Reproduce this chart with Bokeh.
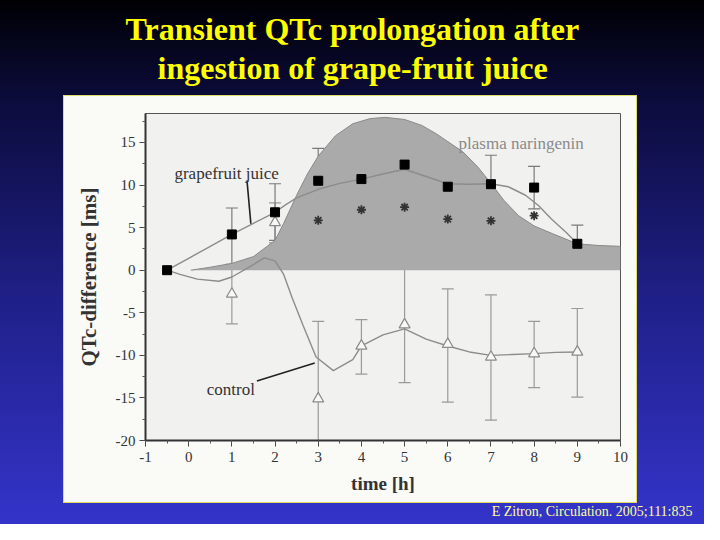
from bokeh.plotting import figure
from bokeh.models import (Range1d, SingleIntervalTicker, Whisker, TeeHead,
                          ColumnDataSource, Title, PrintfTickFormatter)
from bokeh.core.properties import value
from bokeh.embed import file_html
from bokeh.resources import INLINE

# ---------------- data ----------------
title_line1 = "Transient QTc prolongation after"
title_line2 = "ingestion of grape-fruit juice"
citation = "E Zitron, Circulation. 2005;111:835"

# grapefruit juice: mean values with error bars (hi / lo)
gf_x = [-0.5, 1, 2, 3, 4, 5, 6, 7, 8, 9]
gf_y = [0.0, 4.2, 6.8, 10.5, 10.7, 12.4, 9.8, 10.1, 9.7, 3.1]
gf_err_x = [1, 2, 3, 4, 5, 6, 7, 8, 9]
gf_hi = [7.3, 10.15, 14.3, 13.4, 16.8, 12.7, 13.5, 12.2, 5.3]
gf_lo = [0.7, 3.5, 6.6, 8.0, 8.3, 7.0, 6.8, 7.2, 0.8]

# control
ctl_x = [1, 2, 3, 4, 5, 6, 7, 8, 9]
ctl_y = [-2.8, 5.6, -15.1, -8.9, -6.4, -8.7, -10.2, -9.8, -9.6]
ctl_hi = [0.5, 7.9, -6.0, -5.8, 0.1, -2.2, -2.9, -6.0, -4.5]
ctl_lo = [-6.3, 3.2, -24.0, -12.2, -13.2, -15.5, -17.6, -13.8, -14.9]

# significance markers
sig_x = [3, 4, 5, 6, 7, 8]
sig_y = [5.85, 7.1, 7.4, 6.0, 5.8, 6.4]

# smooth fitted curves
gfc_x = [-0.5, 0, 0.5, 1, 1.5, 2, 2.25, 2.5, 3, 3.5, 4, 4.5, 5, 5.5, 6, 6.5,
         7, 7.4, 7.8, 8.1, 8.4, 8.75, 9]
gfc_y = [0, 1.4, 2.8, 4.2, 5.5, 6.8, 7.7, 8.5, 9.5, 10.2, 10.7, 11.3, 11.85,
         11.0, 10.15, 10.1, 10.15, 9.8, 8.8, 7.6, 6.0, 4.4, 3.1]

ctc_x = [-0.5, -0.2, 0.2, 0.7, 1.0, 1.4, 1.75, 2.0, 2.2, 2.4, 2.65, 2.95,
         3.35, 3.8, 4.0, 4.5, 5.0, 5.5, 6.0, 6.5, 7.0, 7.5, 8.0, 8.5, 9.0]
ctc_y = [0, -0.5, -1.05, -1.3, -0.8, 0.35, 1.45, 1.1, -0.5, -3.3, -6.5, -10.2,
         -11.8, -10.5, -8.9, -7.6, -6.9, -8.1, -8.9, -9.6, -10.0, -9.9, -9.8,
         -9.65, -9.6]

# plasma naringenin (shaded area, arbitrary scale)
nar_x = [0.05, 0.5, 1.0, 1.5, 2.0, 2.2, 2.5, 2.75, 3.0, 3.4, 3.8, 4.2, 4.55,
         5.0, 5.4, 5.74, 6.0, 6.35, 6.7, 7.0, 7.3, 7.64, 8.0, 8.42, 9.0, 9.5,
         10.0]
nar_y = [0.0, 0.35, 0.8, 1.6, 3.5, 5.5, 8.8, 11.3, 13.4, 15.8, 17.2, 17.8,
         17.95, 17.7, 17.0, 16.0, 15.1, 13.9, 12.1, 10.2, 8.2, 6.4, 5.2, 4.3,
         3.1, 2.9, 2.8]

# in-plot labels and their pointer lines
label_text = ["grapefruit juice", "control"]
label_x = [-0.33, 0.42]
label_y = [11.3, -13.96]
note_text = ["plasma naringenin"]
note_x = [6.25]
note_y = [14.86]
ptr_x0 = [1.35, 1.58]
ptr_y0 = [10.55, -13.0]
ptr_x1 = [1.44, 2.92]
ptr_y1 = [5.45, -10.9]

x_label = "time [h]"
y_label = "QTc-difference [ms]"

# ---------------- figure ----------------
SERIF = "Liberation Serif"

p = figure(width=704, height=524, output_backend="svg", toolbar_location=None,
           x_range=Range1d(-1, 10), y_range=Range1d(-20, 18.4),
           min_border_left=145, min_border_right=84, min_border_top=113,
           min_border_bottom=84, title_location=None,
           border_fill_color=None, background_fill_color="#f1f1f0",
           outline_line_color="#555555", outline_line_width=1)

p.styles = {
    "background-image": ("linear-gradient(#fafaf7,#fafaf7), "
                         "linear-gradient(#dede66,#dede66), "
                         "linear-gradient(180deg, #000004 0%, #0c0c3e 20%, "
                         "#20208a 58%, #3434ca 100%)"),
    "background-position": "64px 96px, 63px 95px, 0px 0px",
    "background-size": "572px 406px, 574px 408px, 100% 100%",
    "background-repeat": "no-repeat",
}

p.grid.visible = False

# axes
p.xaxis.ticker = SingleIntervalTicker(interval=1, num_minor_ticks=2)
p.yaxis.ticker = SingleIntervalTicker(interval=5, num_minor_ticks=2)
for ax in (p.xaxis, p.yaxis):
    ax.formatter = PrintfTickFormatter(format="%d")
    ax.axis_line_color = "#333333"
    ax.axis_line_width = 2
    ax.major_tick_in = 0
    ax.major_tick_out = 6
    ax.minor_tick_in = 0
    ax.minor_tick_out = 3
    ax.major_tick_line_color = "#444444"
    ax.minor_tick_line_color = "#555555"
    ax.major_label_text_font = SERIF
    ax.major_label_text_font_size = "15px"
    ax.major_label_text_color = "#333333"
    ax.axis_label_text_font = SERIF
    ax.axis_label_text_font_style = "bold"
    ax.axis_label_text_color = "#333333"
p.xaxis.axis_label = x_label
p.yaxis.axis_label = y_label
p.xaxis.axis_label_text_font_size = "19px"
p.yaxis.axis_label_text_font_size = "21px"
p.xaxis.major_label_standoff = 5
p.yaxis.major_label_standoff = 4
p.xaxis.axis_label_standoff = 8
p.yaxis.axis_label_standoff = 12

# shaded naringenin curve
p.varea(x=nar_x, y1=[0] * len(nar_x), y2=nar_y, fill_color="#aaaaaa")
p.line(nar_x, nar_y, line_color="#8a8a8a", line_width=1)

# fitted curves
p.line(gfc_x, gfc_y, line_color="#8c8c8c", line_width=1.4)
p.line(ctc_x, ctc_y, line_color="#8c8c8c", line_width=1.4)

# error bars
ctl_src = ColumnDataSource(dict(x=ctl_x, y=ctl_y, hi=ctl_hi, lo=ctl_lo))
gf_src = ColumnDataSource(dict(x=gf_err_x, hi=gf_hi, lo=gf_lo))
p.add_layout(Whisker(base="x", upper="hi", lower="lo", source=ctl_src,
                     line_color="#9a9a9a", line_width=1.2,
                     upper_head=TeeHead(size=12, line_color="#9a9a9a", line_width=1.2),
                     lower_head=TeeHead(size=12, line_color="#9a9a9a", line_width=1.2)))
p.add_layout(Whisker(base="x", upper="hi", lower="lo", source=gf_src,
                     line_color="#7a7a7a", line_width=1.2,
                     upper_head=TeeHead(size=12, line_color="#7a7a7a", line_width=1.2),
                     lower_head=TeeHead(size=12, line_color="#7a7a7a", line_width=1.2)))

# markers
p.scatter(x="x", y="y", source=ctl_src, marker="triangle", size=11,
          fill_color="#f8f8f8", line_color="#8a8a8a", line_width=1.2)
p.scatter(gf_x, gf_y, marker="square", size=9, fill_color="#000000",
          line_color="#000000")
p.scatter(sig_x, sig_y, marker="asterisk", size=9, line_color="#333333",
          line_width=1.8)

# labels and pointers
p.segment(x0=ptr_x0, y0=ptr_y0, x1=ptr_x1, y1=ptr_y1, line_color="#222222",
          line_width=1.6)
p.text(x=label_x, y=label_y, text=label_text, text_font=value(SERIF),
       text_font_size="17px", text_color="#333333", text_baseline="alphabetic")
p.text(x=note_x, y=note_y, text=note_text, text_font=value(SERIF),
       text_font_size="17px", text_color="#8a8a8a", text_baseline="alphabetic")

# slide title: a thin spacer first (closest to the frame), then the two lines
title_style = dict(text_font=SERIF, text_font_size="32px", text_font_style="bold",
                   text_color="#ffff00", align="left")
p.add_layout(Title(text=" ", text_font_size="1px", standoff=24), "above")
p.add_layout(Title(text=title_line2, offset=12, standoff=2, **title_style), "above")
p.add_layout(Title(text=title_line1, offset=-20, standoff=0, **title_style), "above")

# citation under the x-axis label
p.add_layout(Title(text=citation, text_font=SERIF, text_font_size="14px",
                   text_font_style="normal", text_color="#ffff99", align="right",
                   offset=-72, standoff=10), "below")

open("out.html", "w").write(file_html(p, INLINE))
